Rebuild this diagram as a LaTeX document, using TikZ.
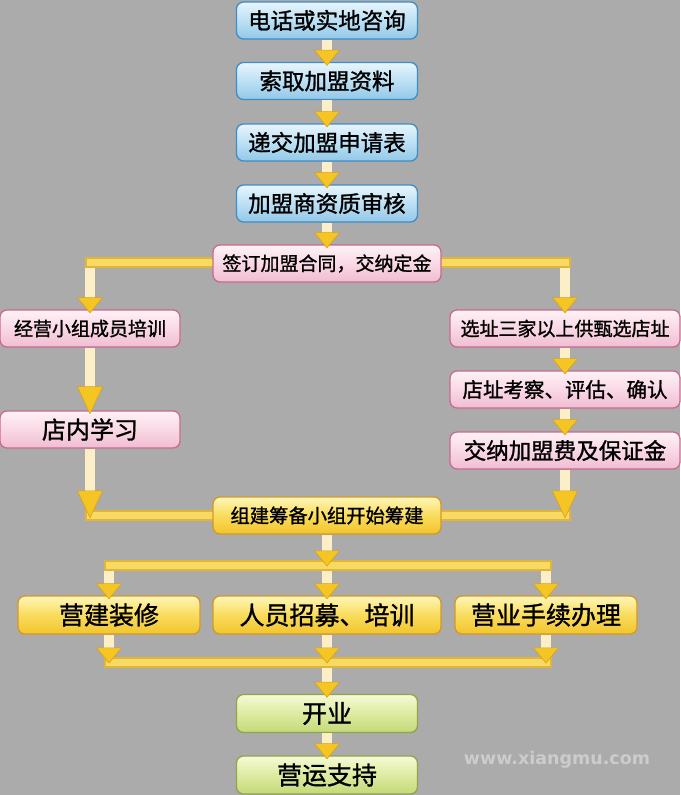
\documentclass[tikz,border=0pt]{standalone}
\usepackage{fontspec}
\newfontfamily\cjk{Noto Sans CJK SC}[FakeBold=1.2]
\newfontfamily\webfont{DejaVu Sans}
\usetikzlibrary{arrows.meta}
\definecolor{bg}{HTML}{ABABAB}
\definecolor{blueTop}{HTML}{E8F5FD}
\definecolor{blueMid}{HTML}{BCE0F4}
\definecolor{blueBot}{HTML}{92C8E8}
\definecolor{blueEdge}{HTML}{3E8DC5}
\definecolor{pinkTop}{HTML}{FFF2F7}
\definecolor{pinkMid}{HTML}{F9D8E5}
\definecolor{pinkBot}{HTML}{F0BDD2}
\definecolor{pinkEdge}{HTML}{C96A90}
\definecolor{goldTop}{HTML}{FFF6B8}
\definecolor{goldMid}{HTML}{F9DC5C}
\definecolor{goldBot}{HTML}{F2C42C}
\definecolor{goldEdge}{HTML}{D2992A}
\definecolor{greenTop}{HTML}{F5FAD6}
\definecolor{greenMid}{HTML}{DDEBA0}
\definecolor{greenBot}{HTML}{C4D879}
\definecolor{greenEdge}{HTML}{8EA54B}
\definecolor{shaft}{HTML}{FCEFC8}
\definecolor{tipFill}{HTML}{F5C623}
\definecolor{tipEdge}{HTML}{D9A11A}
\definecolor{barFill}{HTML}{F7DA62}
\definecolor{barEdge}{HTML}{E2B53A}
\tikzset{box/.style={rounded corners=7pt, minimum height=37pt, minimum width=181pt,
    inner sep=0pt, line width=1.3pt, text=black}}
\tikzset{bluebox/.style={box, draw=blueEdge, top color=blueTop, bottom color=blueBot,
    middle color=blueMid, font=\cjk\fontsize{22.5}{24}\selectfont}}
\tikzset{pinkbox/.style={box, draw=pinkEdge, top color=pinkTop, bottom color=pinkBot,
    middle color=pinkMid, font=\cjk\fontsize{19}{21}\selectfont}}
\tikzset{goldbox/.style={box, draw=goldEdge, top color=goldTop, bottom color=goldBot,
    middle color=goldMid, minimum height=38pt, font=\cjk\fontsize{25}{27}\selectfont}}
\tikzset{greenbox/.style={box, draw=greenEdge, top color=greenTop, bottom color=greenBot,
    middle color=greenMid, minimum height=38pt, font=\cjk\fontsize{25}{27}\selectfont}}
\tikzset{flow/.style={line width=10pt, draw=shaft, shorten >=-4pt,
    -{Triangle[width=26pt,length=16pt,line width=0.6pt,fill=tipFill,color=tipEdge]}}}
\tikzset{longflow/.style={flow,
    -{Triangle[width=26pt,length=28pt,line width=0.6pt,fill=tipFill,color=tipEdge]}}}
\tikzset{bar/.style={line width=11pt, draw=barEdge, line cap=rect,
    postaction={draw=barFill, line width=7pt}}}

\begin{document}
\begin{tikzpicture}[x=1pt,y=-1pt]
    \fill[bg] (0,0) rectangle (680,795);
    \useasboundingbox (0,0) rectangle (680,795);

    \coordinate (signL) at (90,262.5);
    \coordinate (signR) at (565,262.5);
    \coordinate (buildL) at (90,515.5);
    \coordinate (buildR) at (565,515.5);
    \coordinate (prepM) at (327,565.5);
    \coordinate (prepL) at (109,565.5);
    \coordinate (prepR) at (546,565.5);
    \coordinate (openM) at (327,662.5);
    \coordinate (openL) at (109,662.5);
    \coordinate (openR) at (546,662.5);
    \draw[bar] (signL) -- (signR);
    \draw[bar] (buildL) -- (buildR);
    \draw[bar] (prepL) -- (prepR);
    \draw[bar] (openL) -- (openR);

    \node[bluebox] (call) at (327,20.5) {电话或实地咨询};
    \node[bluebox] (info) at (327,81) {索取加盟资料};
    \node[bluebox] (apply) at (327,142.5) {递交加盟申请表};
    \node[bluebox] (check) at (327,203.5) {加盟商资质审核};
    \node[pinkbox, minimum width=228pt] (sign) at (327,263.5) {签订加盟合同，交纳定金};
    \node[pinkbox, minimum width=180pt] (train) at (90,328.5) {经营小组成员培训};
    \node[pinkbox, font=\cjk\fontsize{24}{26}\selectfont, minimum width=180pt] (study) at (90,429.5) {店内学习};
    \node[pinkbox, minimum width=230pt] (site) at (565,328.5) {选址三家以上供甄选店址};
    \node[pinkbox, font=\cjk\fontsize{20.5}{22}\selectfont, minimum width=230pt] (survey) at (565,389.5) {店址考察、评估、确认};
    \node[pinkbox, font=\cjk\fontsize{22.5}{24}\selectfont, minimum width=230pt] (fee) at (565,450.5) {交纳加盟费及保证金};
    \node[goldbox, font=\cjk\fontsize{19.3}{21}\selectfont, minimum width=228pt, minimum height=37pt] (build) at (327,515.5) {组建筹备小组开始筹建};
    \node[goldbox, minimum width=182pt] (decor) at (109,615) {营建装修};
    \node[goldbox, minimum width=228pt] (staff) at (327,615) {人员招募、培训};
    \node[goldbox, minimum width=182pt] (permit) at (546,615) {营业手续办理};
    \node[greenbox] (open) at (327,713.5) {开业};
    \node[greenbox] (support) at (327,775) {营运支持};

    \draw[flow] (call) -- (info);
    \draw[flow] (info) -- (apply);
    \draw[flow] (apply) -- (check);
    \draw[flow] (check) -- (sign);
    \draw[flow, shorten <=5pt] (signL) -- (train);
    \draw[flow, shorten <=5pt] (signR) -- (site);
    \draw[longflow] (train) -- (study);
    \draw[flow] (site) -- (survey);
    \draw[flow] (survey) -- (fee);
    \draw[longflow, shorten >=-3pt] (study) -- (buildL);
    \draw[longflow, shorten >=-3pt] (fee) -- (buildR);
    \draw[flow, shorten >=-1pt] (build) -- (prepM);
    \draw[flow, shorten <=5pt] (prepL) -- (decor);
    \draw[flow, shorten <=5pt] (prepM) -- (staff);
    \draw[flow, shorten <=5pt] (prepR) -- (permit);
    \draw[flow, shorten >=-1pt] (decor) -- (openL);
    \draw[flow, shorten >=-1pt] (staff) -- (openM);
    \draw[flow, shorten >=-1pt] (permit) -- (openR);
    \draw[flow, shorten <=5pt] (openM) -- (open);
    \draw[flow] (open) -- (support);

    \node[font=\webfont\bfseries\fontsize{17.5}{18}\selectfont, text=white!80!black] (web) at (557,760) {www.xiangmu.com};
  \end{tikzpicture}
\end{document}
